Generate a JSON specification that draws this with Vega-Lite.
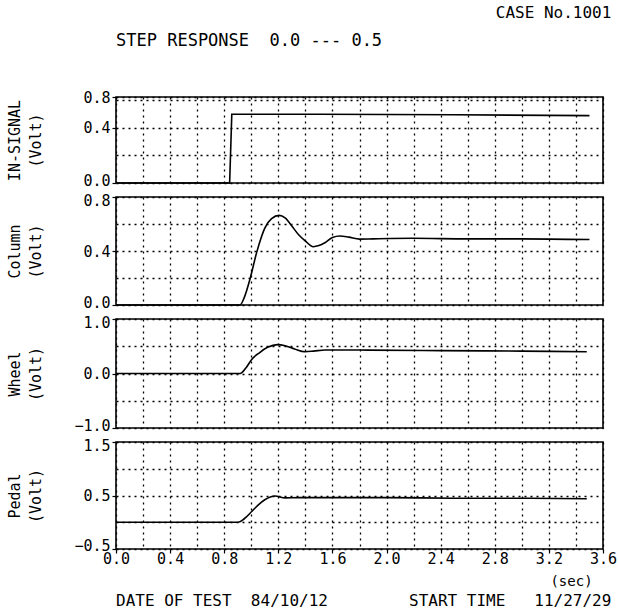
{
  "$schema": "https://vega.github.io/schema/vega-lite/v6.json",
  "background": "white",
  "padding": {"left": 6, "top": 5, "right": 0, "bottom": 0},
  "config": {
    "font": "DejaVu Sans Mono",
    "view": {"stroke": "black", "strokeWidth": 1.6},
    "title": {"font": "DejaVu Sans Mono", "fontWeight": "normal", "fontSize": 16, "color": "black"},
    "axis": {
      "domain": false,
      "grid": true,
      "gridColor": "black",
      "gridDash": [2, 4],
      "gridWidth": 1.3,
      "gridOpacity": 1,
      "labelFont": "DejaVu Sans Mono",
      "labelFontSize": 15,
      "labelColor": "black",
      "labelOverlap": false,
      "labelFlush": false,
      "labelPadding": 2,
      "tickColor": "black",
      "tickSize": 4,
      "tickWidth": 1.2,
      "titleFont": "DejaVu Sans Mono",
      "titleFontSize": 15,
      "titleFontWeight": "normal",
      "titleColor": "black"
    }
  },
  "datasets": {
    "insignal": [
      {"t": 0, "v": 0}, {"t": 0.84, "v": 0}, {"t": 0.856, "v": 0.5}, {"t": 1.5, "v": 0.5},
      {"t": 2.5, "v": 0.496}, {"t": 3.5, "v": 0.49}
    ],
    "column": [
      {"t": 0, "v": 0}, {"t": 0.6, "v": 0}, {"t": 0.917, "v": 0}, {"t": 0.95, "v": 0.06},
      {"t": 0.99, "v": 0.19}, {"t": 1.04, "v": 0.39}, {"t": 1.1, "v": 0.57}, {"t": 1.15, "v": 0.64},
      {"t": 1.207, "v": 0.664}, {"t": 1.25, "v": 0.645}, {"t": 1.3, "v": 0.585}, {"t": 1.35, "v": 0.52},
      {"t": 1.4, "v": 0.474}, {"t": 1.458, "v": 0.432}, {"t": 1.5, "v": 0.44}, {"t": 1.544, "v": 0.461},
      {"t": 1.6, "v": 0.5}, {"t": 1.655, "v": 0.511}, {"t": 1.72, "v": 0.503}, {"t": 1.8, "v": 0.488},
      {"t": 1.9, "v": 0.49}, {"t": 2.2, "v": 0.494}, {"t": 2.6, "v": 0.49}, {"t": 3.0, "v": 0.49},
      {"t": 3.5, "v": 0.485}
    ],
    "wheel": [
      {"t": 0, "v": 0}, {"t": 0.6, "v": 0}, {"t": 0.917, "v": 0}, {"t": 0.96, "v": 0.1},
      {"t": 1.003, "v": 0.257}, {"t": 1.06, "v": 0.38}, {"t": 1.12, "v": 0.48}, {"t": 1.195, "v": 0.53},
      {"t": 1.25, "v": 0.51}, {"t": 1.32, "v": 0.45}, {"t": 1.397, "v": 0.4}, {"t": 1.46, "v": 0.41},
      {"t": 1.544, "v": 0.43}, {"t": 1.8, "v": 0.43}, {"t": 2.4, "v": 0.42}, {"t": 3.0, "v": 0.41},
      {"t": 3.48, "v": 0.4}
    ],
    "pedal": [
      {"t": 0, "v": 0}, {"t": 0.6, "v": 0}, {"t": 0.905, "v": 0}, {"t": 0.95, "v": 0.07},
      {"t": 1.003, "v": 0.2}, {"t": 1.05, "v": 0.32}, {"t": 1.1, "v": 0.42}, {"t": 1.175, "v": 0.49},
      {"t": 1.25, "v": 0.455}, {"t": 1.35, "v": 0.46}, {"t": 2.0, "v": 0.46}, {"t": 2.5, "v": 0.45},
      {"t": 3.0, "v": 0.45}, {"t": 3.48, "v": 0.44}
    ]
  },
  "title": {"text": "CASE No.1001", "anchor": "end", "frame": "bounds", "fontSize": 16, "offset": 10, "dx": -6},
  "vconcat": [
    {
      "title": {"text": "START TIME\u00a0\u00a0\u00a011/27/29", "orient": "bottom", "anchor": "end", "frame": "bounds", "fontSize": 16, "offset": 5, "dy": -22, "dx": -6},
      "spacing": 14,
      "bounds": "flush",
      "vconcat": [
        {
          "width": 487,
          "height": 86,
          "title": {"text": "STEP RESPONSE\u00a0\u00a00.0 --- 0.5", "anchor": "start", "frame": "group", "fontSize": 17, "offset": 40},
          "data": {"name": "insignal"},
          "mark": {"type": "line", "color": "black", "strokeWidth": 1.6},
          "encoding": {
            "x": {"field": "t", "type": "quantitative", "scale": {"domain": [0, 3.6], "nice": false, "zero": false},
              "axis": {"values": [0, 0.2, 0.4, 0.6, 0.8, 1, 1.2, 1.4, 1.6, 1.8, 2, 2.2, 2.4, 2.6, 2.8, 3, 3.2, 3.4, 3.6], "labels": false, "ticks": false, "title": null}},
            "y": {"field": "v", "type": "quantitative", "scale": {"domain": [0, 0.625], "nice": false, "zero": false},
              "axis": {"values": [0, 0.2, 0.4, 0.6, 0.625],
                "labelExpr": "datum.value > 0.61 ? '0.8' : (datum.value == 0 || datum.value == 0.4) ? format(datum.value, '.1f') : ''",
                "labelOffset": {"condition": {"test": "datum.value == 0", "value": -3}, "value": 0},
                "tickOpacity": {"condition": {"test": "datum.value > 0.61 || datum.value == 0 || datum.value == 0.4", "value": 1}, "value": 0},
                "title": ["IN-SIGNAL", "(Volt)"], "titleX": -102, "titleY": 43, "titleAngle": -90, "titleAlign": "center", "titleBaseline": "middle", "titleLineHeight": 21}}
          }
        },
        {
          "width": 487,
          "height": 108,
          "data": {"name": "column"},
          "mark": {"type": "line", "color": "black", "strokeWidth": 1.6, "interpolate": "monotone"},
          "encoding": {
            "x": {"field": "t", "type": "quantitative", "scale": {"domain": [0, 3.6], "nice": false, "zero": false},
              "axis": {"values": [0, 0.2, 0.4, 0.6, 0.8, 1, 1.2, 1.4, 1.6, 1.8, 2, 2.2, 2.4, 2.6, 2.8, 3, 3.2, 3.4, 3.6], "labels": false, "ticks": false, "title": null}},
            "y": {"field": "v", "type": "quantitative", "scale": {"domain": [0, 0.8], "nice": false, "zero": false},
              "axis": {"values": [0, 0.2, 0.4, 0.6, 0.8],
                "labelExpr": "round(datum.value * 10) % 4 == 0 ? format(datum.value, '.1f') : ''",
                "labelOffset": {"condition": [{"test": "datum.value == 0", "value": -3}, {"test": "datum.value == 0.8", "value": 3}], "value": 0},
                "tickOpacity": {"condition": {"test": "round(datum.value * 10) % 4 == 0", "value": 1}, "value": 0},
                "title": ["Column", "(Volt)"], "titleX": -102, "titleY": 54, "titleAngle": -90, "titleAlign": "center", "titleBaseline": "middle", "titleLineHeight": 21}}
          }
        },
        {
          "width": 487,
          "height": 109,
          "data": {"name": "wheel"},
          "mark": {"type": "line", "color": "black", "strokeWidth": 1.6, "interpolate": "monotone"},
          "encoding": {
            "x": {"field": "t", "type": "quantitative", "scale": {"domain": [0, 3.6], "nice": false, "zero": false},
              "axis": {"values": [0, 0.2, 0.4, 0.6, 0.8, 1, 1.2, 1.4, 1.6, 1.8, 2, 2.2, 2.4, 2.6, 2.8, 3, 3.2, 3.4, 3.6], "labels": false, "ticks": false, "title": null}},
            "y": {"field": "v", "type": "quantitative", "scale": {"domain": [-1, 1], "nice": false, "zero": false},
              "axis": {"values": [-1, -0.5, 0, 0.5, 1],
                "labelExpr": "round(datum.value * 10) % 10 == 0 ? format(datum.value, '.1f') : ''",
                "labelOffset": {"condition": [{"test": "datum.value == -1", "value": -3}, {"test": "datum.value == 1", "value": 3}], "value": 0},
                "tickOpacity": {"condition": {"test": "round(datum.value * 10) % 10 == 0", "value": 1}, "value": 0},
                "title": ["Wheel", "(Volt)"], "titleX": -102, "titleY": 54.5, "titleAngle": -90, "titleAlign": "center", "titleBaseline": "middle", "titleLineHeight": 21}}
          }
        },
        {
          "width": 487,
          "height": 107,
          "title": {"text": "DATE OF TEST\u00a0\u00a084/10/12", "orient": "bottom", "anchor": "start", "frame": "group", "fontSize": 16, "offset": 5},
          "data": {"name": "pedal"},
          "mark": {"type": "line", "color": "black", "strokeWidth": 1.6, "interpolate": "monotone"},
          "encoding": {
            "x": {"field": "t", "type": "quantitative", "scale": {"domain": [0, 3.6], "nice": false, "zero": false},
              "axis": {"values": [0, 0.2, 0.4, 0.6, 0.8, 1, 1.2, 1.4, 1.6, 1.8, 2, 2.2, 2.4, 2.6, 2.8, 3, 3.2, 3.4, 3.6],
                "labelExpr": "round(datum.value * 10) % 4 == 0 ? format(datum.value, '.1f') : ''",
                "labelPadding": -2,
                "tickOpacity": {"condition": {"test": "round(datum.value * 10) % 4 == 0", "value": 1}, "value": 0},
                "title": "(sec)", "titleX": 455, "titleY": 32, "titleAlign": "center", "titleBaseline": "middle", "titleFontSize": 14}},
            "y": {"field": "v", "type": "quantitative", "scale": {"domain": [-0.5, 1.5], "nice": false, "zero": false},
              "axis": {"values": [-0.5, 0, 0.5, 1, 1.5],
                "labelExpr": "round(datum.value * 10) % 10 == 5 || round(datum.value * 10) % 10 == -5 ? format(datum.value, '.1f') : ''",
                "labelOffset": {"condition": [{"test": "datum.value == -0.5", "value": -4}, {"test": "datum.value == 1.5", "value": 3}], "value": 0},
                "tickOpacity": {"condition": {"test": "round(datum.value * 10) % 10 == 5 || round(datum.value * 10) % 10 == -5", "value": 1}, "value": 0},
                "title": ["Pedal", "(Volt)"], "titleX": -102, "titleY": 53.5, "titleAngle": -90, "titleAlign": "center", "titleBaseline": "middle", "titleLineHeight": 21}}
          }
        }
      ]
    }
  ]
}
